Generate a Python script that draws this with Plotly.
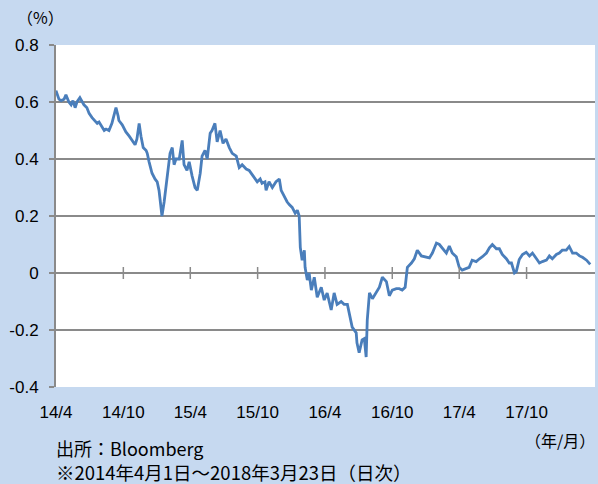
import pandas as pd
import plotly.graph_objects as go

start_date = "2014-04-01"
# day offsets from 2014-04-01 and spread values (%)
day_offsets = [0, 3, 8, 14, 22, 27, 35, 41, 46, 52, 57, 65, 71, 76, 84, 90, 98, 106, 112, 117,
               125, 131, 136, 144, 152, 158, 163, 169, 171, 180, 190, 199, 207, 215, 220, 226, 231, 237, 245, 248,
               253, 261, 269, 275, 280, 286, 288, 294, 299, 305, 310, 316, 321, 326, 335, 343, 348, 356, 362, 370,
               378, 384, 392, 397, 405, 411, 419, 424, 432, 438, 443, 446, 454, 462, 471, 479, 490, 498, 506, 517,
               525, 530, 539, 547, 555, 560, 568, 571, 579, 588, 598, 607, 612, 620, 628, 634, 642, 650, 656, 661,
               664, 669, 675, 677, 683, 688, 694, 702, 710, 721, 729, 737, 748, 756, 764, 775, 783, 792, 797, 805,
               816, 818, 824, 832, 838, 843, 846, 852, 860, 870, 879, 887, 898, 906, 914, 925, 933, 941, 949, 955,
               966, 974, 982, 993, 1006, 1015, 1023, 1034, 1042, 1050, 1061, 1069, 1077, 1088, 1096, 1104, 1115, 1123, 1131, 1142,
               1151, 1159, 1170, 1178, 1186, 1197, 1205, 1213, 1224, 1232, 1238, 1246, 1251, 1259, 1268, 1278, 1287, 1295, 1306, 1314,
               1322, 1333, 1341, 1349, 1360, 1368, 1376, 1387, 1395, 1404, 1414, 1423, 1431, 1442, 1452]
spread = [0.64, 0.63, 0.61, 0.605, 0.61, 0.625, 0.60, 0.59, 0.605, 0.58, 0.60, 0.615, 0.60, 0.59, 0.58, 0.56, 0.545, 0.535, 0.525, 0.53,
          0.51, 0.50, 0.505, 0.50, 0.525, 0.56, 0.58, 0.55, 0.535, 0.52, 0.495, 0.48, 0.465, 0.45, 0.47, 0.525, 0.48, 0.44, 0.43, 0.42,
          0.39, 0.35, 0.33, 0.32, 0.29, 0.23, 0.20, 0.25, 0.31, 0.37, 0.42, 0.44, 0.38, 0.40, 0.40, 0.465, 0.38, 0.36, 0.39, 0.34,
          0.30, 0.29, 0.35, 0.41, 0.43, 0.40, 0.49, 0.50, 0.525, 0.46, 0.49, 0.50, 0.455, 0.47, 0.44, 0.42, 0.41, 0.37, 0.38, 0.365,
          0.36, 0.35, 0.335, 0.32, 0.33, 0.315, 0.32, 0.29, 0.32, 0.30, 0.32, 0.33, 0.29, 0.267, 0.25, 0.24, 0.23, 0.21, 0.22, 0.20,
          0.09, 0.045, 0.08, 0.02, -0.025, 0.0, -0.06, -0.015, -0.085, -0.05, -0.095, -0.07, -0.13, -0.07, -0.11, -0.10, -0.11, -0.11, -0.14, -0.19,
          -0.21, -0.245, -0.28, -0.235, -0.23, -0.295, -0.165, -0.07, -0.09, -0.07, -0.05, -0.015, -0.03, -0.08, -0.06, -0.055, -0.055, -0.06, -0.05, 0.02,
          0.035, 0.05, 0.08, 0.06, 0.055, 0.053, 0.07, 0.105, 0.10, 0.088, 0.07, 0.095, 0.07, 0.057, 0.02, 0.01, 0.015, 0.02, 0.045, 0.04,
          0.05, 0.057, 0.07, 0.088, 0.10, 0.085, 0.085, 0.065, 0.05, 0.035, 0.035, 0.0, 0.005, 0.047, 0.065, 0.073, 0.06, 0.07, 0.05, 0.035,
          0.04, 0.045, 0.06, 0.05, 0.065, 0.07, 0.08, 0.08, 0.093, 0.07, 0.07, 0.06, 0.055, 0.045, 0.03]

tick_dates = ["2014-04-01", "2014-10-01", "2015-04-01", "2015-10-01", "2016-04-01",
              "2016-10-01", "2017-04-01", "2017-10-01"]
tick_labels = ["14/4", "14/10", "15/4", "15/10", "16/4", "16/10", "17/4", "17/10"]
y_ticks = [-0.4, -0.2, 0, 0.2, 0.4, 0.6, 0.8]
y_labels = ["-0.4", "-0.2", "0", "0.2", "0.4", "0.6", "0.8"]

dates = pd.to_datetime(start_date) + pd.to_timedelta(day_offsets, unit="D")

FONT = "Liberation Sans"
JFONT = "Noto Sans CJK JP"
GRID = "#8a8a8a"

fig = go.Figure()
fig.add_trace(go.Scatter(x=dates, y=spread, mode="lines",
                         line=dict(color="#4a7ebb", width=2.8), hoverinfo="skip"))

# small tick marks on the zero line
for d in tick_dates[1:]:
    fig.add_shape(type="line", xref="x", yref="y", x0=d, x1=d, y0=-0.021, y1=0.021,
                  line=dict(color=GRID, width=1.5), layer="above")

fig.update_layout(
    width=598, height=484,
    margin=dict(l=56, r=3, t=45, b=97, autoexpand=False),
    paper_bgcolor="#c6d9f0", plot_bgcolor="white",
    showlegend=False,
    font=dict(family=FONT, size=17, color="#000"),
    xaxis=dict(range=["2014-04-01", "2018-04-05"], tickmode="array", automargin=False,
               tickvals=tick_dates, ticktext=tick_labels, showgrid=False,
               zeroline=False, ticks="", showline=False, ticklabelstandoff=13,
               tickfont=dict(family=FONT, size=17)),
    yaxis=dict(range=[-0.4, 0.8], tickmode="array", tickvals=y_ticks, ticktext=y_labels,
               automargin=False, ticklabelstandoff=7,
               showgrid=True, gridcolor=GRID, gridwidth=1.5, zeroline=False,
               showline=True, linecolor=GRID, linewidth=2, ticks="outside",
               ticklen=5, tickcolor=GRID, tickwidth=1.5, tickfont=dict(family=FONT, size=17)),
)

fig.add_annotation(text="（%）", xref="paper", yref="paper", x=-0.076, y=1.0, yshift=28,
                   xanchor="left", yanchor="middle", showarrow=False,
                   font=dict(family=JFONT, size=16))
fig.add_annotation(text="（年/月）", xref="paper", yref="paper", x=1.004, y=0, yshift=-53,
                   xanchor="right", yanchor="middle", showarrow=False,
                   font=dict(family=JFONT, size=16))
fig.add_annotation(text="出所：Bloomberg", xref="paper", yref="paper", x=-0.004, y=0, yshift=-61,
                   xanchor="left", yanchor="middle", showarrow=False,
                   font=dict(family=JFONT, size=18))
fig.add_annotation(text="※2014年4月1日～2018年3月23日（日次）", xref="paper", yref="paper",
                   x=-0.004, y=0, yshift=-85, xanchor="left", yanchor="middle", showarrow=False,
                   font=dict(family=JFONT, size=18.5))

fig.write_html("out.html", config={"displayModeBar": False},
               post_script="document.body.style.margin='0';document.body.style.overflow='hidden';")
